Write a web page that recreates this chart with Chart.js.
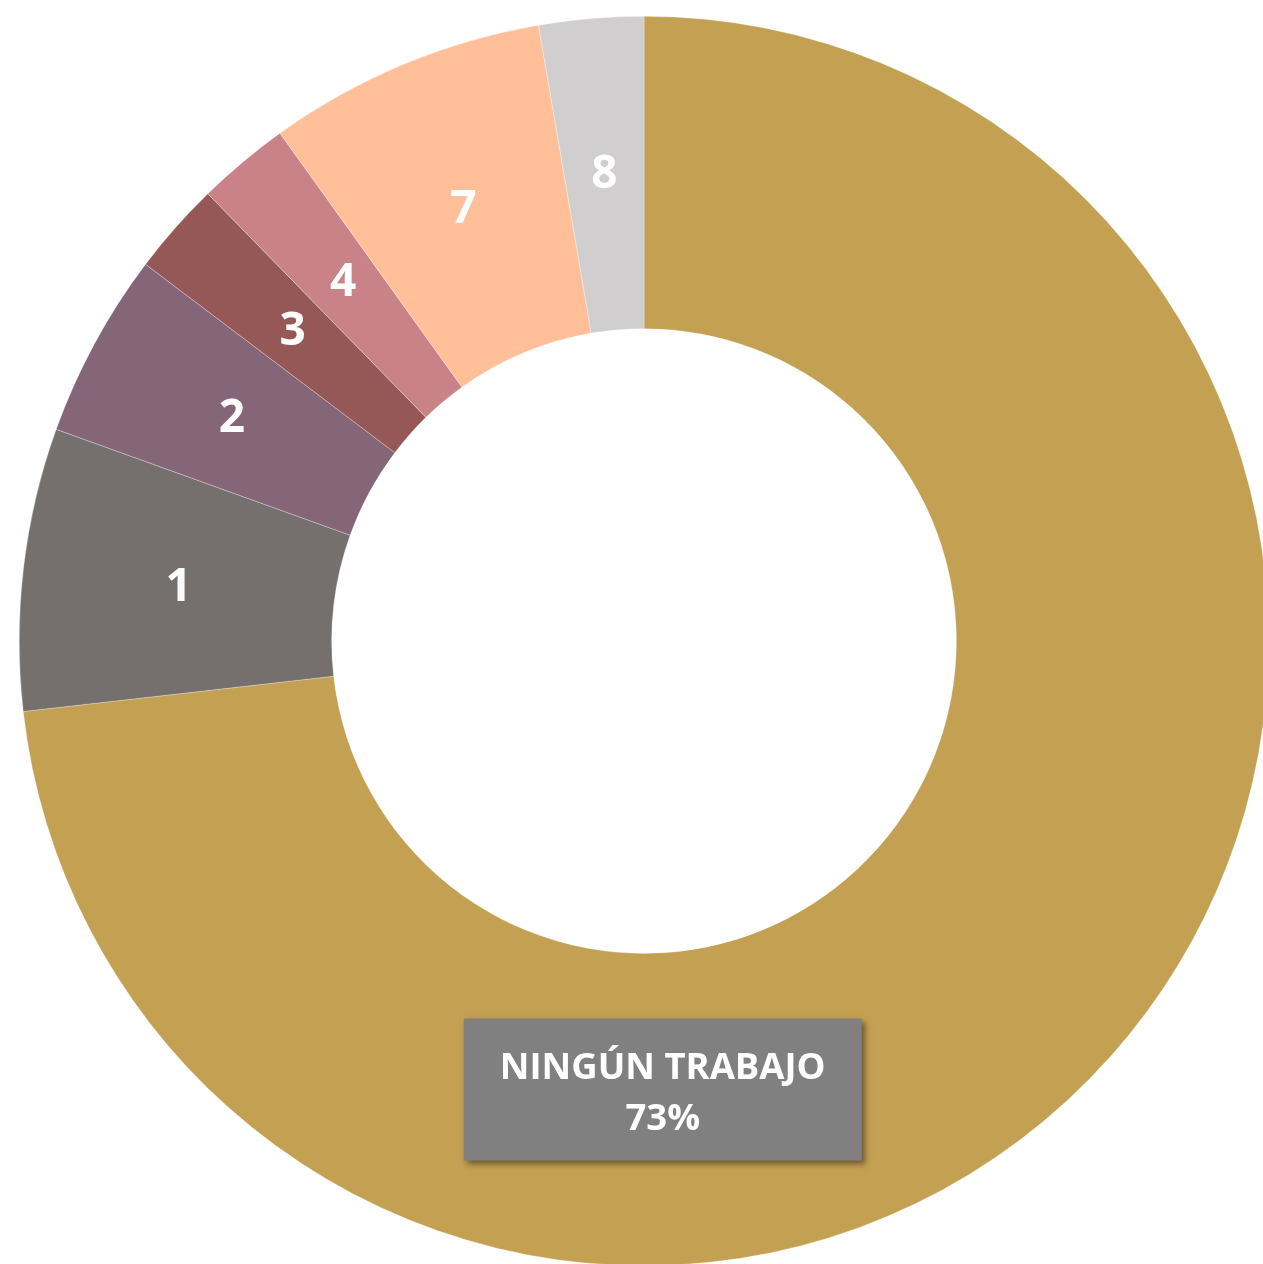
<!DOCTYPE html>
<html lang="es">
<head>
<meta charset="utf-8">
<title>Trabajos</title>
<script src="https://cdn.jsdelivr.net/npm/chart.js@4/dist/chart.umd.min.js"></script>
<style>
  html, body { margin: 0; padding: 0; background: #ffffff; overflow: hidden; width: 1263px; height: 1264px; }
  #wrap { position: absolute; left: 19px; top: 16px; width: 1250px; height: 1250px; }
</style>
</head>
<body>
<div id="wrap"><canvas id="chart"></canvas></div>
<script>
// Number of jobs (share of respondents, %)
const categories = ['NINGÚN TRABAJO', '1', '2', '3', '4', '7', '8'];
const shares = [73.2, 7.3, 4.8, 2.4, 2.4, 7.2, 2.7];
const sliceColors = ['#C4A053', '#75706E', '#856678', '#965856', '#C98288', '#FFBF99', '#D0CECF'];

const FONT = '"Open Sans", Lato, "DejaVu Sans", sans-serif';

// Writes the category name on each small slice and a callout box for the main one
const sliceLabels = {
  id: 'sliceLabels',
  afterDatasetsDraw(chart) {
    const ctx = chart.ctx;
    const meta = chart.getDatasetMeta(0);
    const values = chart.data.datasets[0].data;
    const total = values.reduce((a, b) => a + b, 0);
    ctx.save();
    meta.data.forEach((arc, i) => {
      if (i === 0) return;
      const p = arc.tooltipPosition();
      ctx.fillStyle = '#ffffff';
      ctx.font = 'bold 46px ' + FONT;
      ctx.textAlign = 'center';
      ctx.textBaseline = 'middle';
      ctx.fillText(chart.data.labels[i], p.x, p.y + 1);
    });

    // Callout for the largest slice, placed inside the ring below the hole
    const main = meta.data[0];
    const R = main.outerRadius;
    const cx = main.x + 0.03 * R;
    const cy = main.y + 0.718 * R;
    const w = 398, h = 142;
    ctx.shadowColor = 'rgba(40, 30, 10, 0.55)';
    ctx.shadowBlur = 6;
    ctx.shadowOffsetX = 3;
    ctx.shadowOffsetY = 3;
    ctx.fillStyle = '#808080';
    ctx.fillRect(cx - w / 2, cy - h / 2, w, h);
    ctx.shadowColor = 'transparent';
    ctx.shadowBlur = 0;
    ctx.shadowOffsetX = 0;
    ctx.shadowOffsetY = 0;
    ctx.fillStyle = '#ffffff';
    ctx.font = 'bold 36.5px ' + FONT;
    ctx.textAlign = 'center';
    ctx.textBaseline = 'middle';
    ctx.fillText(chart.data.labels[0], cx, cy - 21);
    ctx.fillText(Math.round(values[0] / total * 100) + '%', cx, cy + 30);
    ctx.restore();
  }
};

new Chart(document.getElementById('chart'), {
  type: 'doughnut',
  data: {
    labels: categories,
    datasets: [{
      data: shares,
      backgroundColor: sliceColors,
      borderColor: 'rgba(255,255,255,0.55)',
      borderWidth: 0.5,
      hoverOffset: 0
    }]
  },
  options: {
    responsive: true,
    maintainAspectRatio: false,
    animation: false,
    cutout: '50%',
    layout: { padding: 0 },
    plugins: {
      legend: { display: false },
      tooltip: { enabled: false }
    }
  },
  plugins: [sliceLabels]
});
</script>
</body>
</html>
